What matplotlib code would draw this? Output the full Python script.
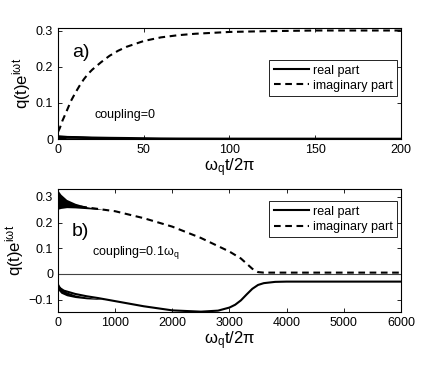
import numpy as np
import matplotlib
matplotlib.use('Agg')
import matplotlib.pyplot as plt

plt.rcParams['font.family'] = ['Liberation Sans', 'DejaVu Sans']
plt.rcParams['mathtext.fontset'] = 'custom'
plt.rcParams['mathtext.rm'] = 'Liberation Sans'
plt.rcParams['mathtext.it'] = 'Liberation Sans:italic'

# panel a) coupling = 0
t_a = [0, 1, 2.5, 5, 7.5, 10, 12.5, 15, 17.5, 20, 25, 30, 35, 40, 50, 60, 70, 80, 100, 120, 150, 200]
imag_a = [0.02, 0.03, 0.05, 0.077, 0.105, 0.127, 0.147, 0.165, 0.18, 0.192, 0.212, 0.23, 0.244, 0.255, 0.271,
          0.281, 0.287, 0.291, 0.296, 0.298, 0.3, 0.3]
t_real_a = [0, 5, 10, 20, 30, 40, 50, 60, 70, 100, 200]
real_a_hi = [0.012, 0.010, 0.009, 0.007, 0.006, 0.005, 0.004, 0.003, 0.0025, 0.002, 0.0015]
real_a_lo = [0.0, 0.002, 0.002, 0.0015, 0.001, 0.001, 0.0008, 0.0005, 0.0005, 0.0005, 0.0005]

# panel b) coupling = 0.1 w_q
t_b = [0, 200, 400, 600, 800, 1000, 1500, 2000, 2500, 3000, 3200, 3400, 3500, 3600, 4000, 5000, 6000]
imag_b = [0.275, 0.268, 0.262, 0.256, 0.25, 0.244, 0.217, 0.184, 0.14, 0.087, 0.06, 0.02, 0.007,
          0.005, 0.005, 0.005, 0.005]
t_band_b = [0, 50, 150, 300, 500, 800]
imag_b_hi = [0.325, 0.31, 0.29, 0.275, 0.262, 0.25]
imag_b_lo = [0.252, 0.255, 0.258, 0.257, 0.254, 0.25]
t_real_b = [0, 100, 300, 500, 700, 1000, 1500, 2000, 2500, 2800, 3000, 3100, 3200, 3300, 3400,
            3500, 3600, 3800, 4000, 6000]
real_b = [-0.05, -0.065, -0.078, -0.087, -0.094, -0.106, -0.126, -0.142, -0.147, -0.143, -0.131,
          -0.12, -0.103, -0.08, -0.058, -0.043, -0.036, -0.031, -0.03, -0.03]
real_b_hi = [-0.035, -0.055, -0.07, -0.082, -0.09, -0.1]
real_b_lo = [-0.062, -0.075, -0.085, -0.092, -0.097, -0.1]

fig = plt.figure(figsize=(4.43, 3.68), dpi=100)
ax1 = fig.add_axes([0.131, 0.622, 0.774, 0.302])
ax2 = fig.add_axes([0.131, 0.151, 0.774, 0.335])

dash = (0, (3.2, 2.2))

def style(ax):
    ax.tick_params(direction='in', top=True, right=True, labelsize=9, length=3, width=0.6)
    for s in ax.spines.values():
        s.set_linewidth(0.8)

# top panel
ax1.fill_between(t_real_a, real_a_lo, real_a_hi, color='k', lw=0)
ax1.plot(t_real_a, np.add(real_a_lo, real_a_hi) / 2, 'k-', lw=1.5, label='real part')
ax1.plot(t_a, imag_a, color='k', ls=dash, lw=1.5, label='imaginary part')
ax1.set_xlim(0, 200)
ax1.set_ylim(0, 0.307)
ax1.set_xticks([0, 50, 100, 150, 200])
ax1.set_yticks([0, 0.1, 0.2, 0.3])
ax1.set_yticklabels(['0', '0.1', '0.2', '0.3'])
style(ax1)
ax1.text(0.04, 0.74, 'a)', transform=ax1.transAxes, fontsize=14)
ax1.text(0.105, 0.19, 'coupling=0', transform=ax1.transAxes, fontsize=9)
ax1.legend(loc='upper right', bbox_to_anchor=(0.988, 0.71), fontsize=9, handlelength=2.8,
           fancybox=False, edgecolor='k', framealpha=1, borderpad=0.35, labelspacing=0.25,
           handletextpad=0.3, borderaxespad=0).get_frame().set_linewidth(0.6)
ax1.set_ylabel(r'q(t)e$^{\mathregular{i\omega t}}$', fontsize=12, labelpad=2)
ax1.set_xlabel(r'$\mathregular{\omega_q t/2\pi}$', fontsize=12, labelpad=0)

# bottom panel
ax2.axhline(0, color='#444444', lw=0.8)
ax2.fill_between(t_band_b, imag_b_lo, imag_b_hi, color='k', lw=0)
ax2.fill_between(t_band_b, real_b_lo, real_b_hi, color='k', lw=0)
ax2.plot(t_real_b, real_b, 'k-', lw=1.5, label='real part')
ax2.plot(t_b, imag_b, color='k', ls=dash, lw=1.5, label='imaginary part')
ax2.set_xlim(0, 6000)
ax2.set_ylim(-0.15, 0.33)
ax2.set_xticks([0, 1000, 2000, 3000, 4000, 5000, 6000])
ax2.set_yticks([-0.1, 0, 0.1, 0.2, 0.3])
ax2.set_yticklabels(['\u22120.1', '0', '0.1', '0.2', '0.3'])
style(ax2)
ax2.text(0.04, 0.62, 'b)', transform=ax2.transAxes, fontsize=14)
ax2.text(0.10, 0.47, r'coupling=0.1$\mathregular{\omega_q}$', transform=ax2.transAxes, fontsize=9)
ax2.legend(loc='upper right', bbox_to_anchor=(0.988, 0.90), fontsize=9, handlelength=2.8,
           fancybox=False, edgecolor='k', framealpha=1, borderpad=0.35, labelspacing=0.25,
           handletextpad=0.3, borderaxespad=0).get_frame().set_linewidth(0.6)
ax2.set_ylabel(r'q(t)e$^{\mathregular{i\omega t}}$', fontsize=12, labelpad=2)
ax2.set_xlabel(r'$\mathregular{\omega_q t/2\pi}$', fontsize=12, labelpad=0)

fig.savefig('out.png', dpi=100)
